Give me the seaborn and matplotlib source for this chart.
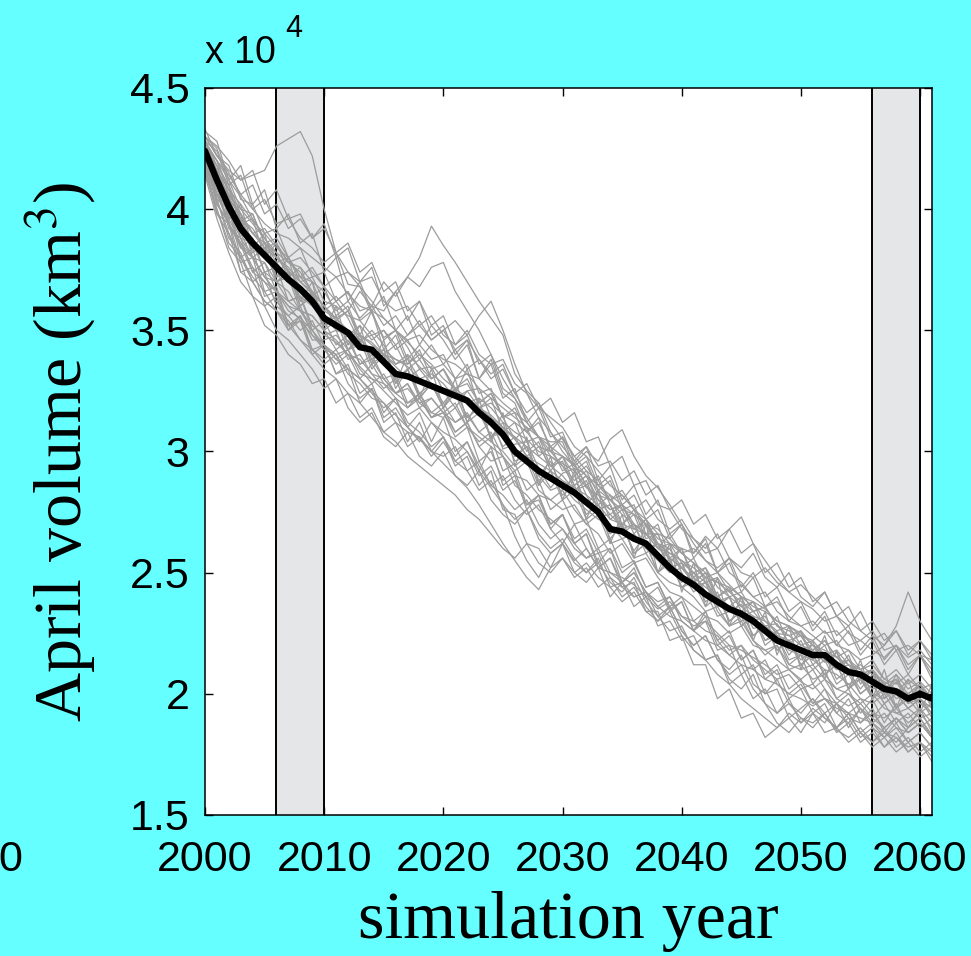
import numpy as np
import pandas as pd
import matplotlib
matplotlib.use("Agg")
import matplotlib.pyplot as plt
import seaborn as sns

# simulation years
years = list(range(2000, 2062))

# ensemble mean April volume (x 10^4 km^3)
vol_mean = [4.24, 4.12, 4.01, 3.92, 3.86, 3.81, 3.76, 3.71, 3.67, 3.62,
            3.55, 3.52, 3.49, 3.43, 3.42, 3.37, 3.32, 3.31, 3.29, 3.27,
            3.25, 3.23, 3.21, 3.16, 3.12, 3.07, 3.00, 2.96, 2.92, 2.89,
            2.86, 2.83, 2.79, 2.75, 2.68, 2.67, 2.64, 2.62, 2.57, 2.52,
            2.48, 2.45, 2.41, 2.38, 2.35, 2.33, 2.30, 2.26, 2.22, 2.20,
            2.18, 2.16, 2.16, 2.12, 2.09, 2.08, 2.05, 2.02, 2.01, 1.98,
            2.00, 1.98]

# individual ensemble members (x 10^4 km^3)
member_01 = [4.30, 4.22, 4.16, 4.12, 4.14, 4.16, 4.26, 4.29, 4.32, 4.22,
             4.00, 3.82, 3.69, 3.68, 3.57, 3.47, 3.50, 3.43, 3.34, 3.35,
             3.25, 3.18, 3.25, 3.26, 3.14, 3.01, 3.03, 3.04, 2.93, 2.85,
             2.91, 2.93, 2.82, 2.73, 2.74, 2.69, 2.59, 2.66, 2.66, 2.55,
             2.46, 2.50, 2.42, 2.32, 2.34, 2.37, 2.27, 2.28, 2.29, 2.21,
             2.14, 2.18, 2.13, 2.17, 2.09, 2.02, 2.08, 2.00, 2.05, 1.97,
             2.02, 1.95]
member_02 = [4.26, 4.20, 4.08, 4.02, 3.95, 3.90, 3.84, 3.80, 3.72, 3.70,
             3.66, 3.58, 3.62, 3.55, 3.60, 3.58, 3.66, 3.72, 3.80, 3.93,
             3.85, 3.78, 3.70, 3.62, 3.55, 3.48, 3.32, 3.25, 3.20, 3.12,
             3.05, 2.98, 2.92, 2.88, 2.80, 2.82, 2.76, 2.70, 2.62, 2.58,
             2.55, 2.50, 2.46, 2.40, 2.43, 2.36, 2.32, 2.30, 2.25, 2.24,
             2.20, 2.18, 2.22, 2.15, 2.12, 2.10, 2.06, 2.04, 2.08, 2.02,
             2.05, 2.00]
member_03 = [4.20, 4.02, 3.95, 3.78, 3.80, 3.64, 3.66, 3.52, 3.54, 3.40,
             3.44, 3.32, 3.34, 3.20, 3.26, 3.12, 3.16, 3.04, 3.12, 3.00,
             3.06, 2.94, 2.98, 2.86, 2.92, 2.76, 2.74, 2.62, 2.60, 2.52,
             2.62, 2.50, 2.46, 2.52, 2.40, 2.46, 2.36, 2.40, 2.28, 2.30,
             2.22, 2.24, 2.14, 2.16, 2.04, 2.08, 1.98, 2.02, 1.92, 1.96,
             1.90, 1.88, 1.92, 1.85, 1.82, 1.86, 1.80, 1.84, 1.82, 1.78,
             1.80, 1.76]
member_04 = [4.28, 4.18, 4.10, 3.98, 3.90, 3.92, 3.85, 3.78, 3.74, 3.66,
             3.60, 3.55, 3.58, 3.48, 3.45, 3.40, 3.36, 3.38, 3.30, 3.32,
             3.28, 3.22, 3.25, 3.18, 3.15, 3.10, 3.05, 2.98, 2.95, 2.92,
             2.88, 2.85, 2.82, 2.78, 2.72, 2.70, 2.68, 2.66, 2.60, 2.58,
             2.55, 2.52, 2.48, 2.46, 2.42, 2.45, 2.40, 2.36, 2.38, 2.32,
             2.28, 2.30, 2.25, 2.26, 2.20, 2.22, 2.18, 2.15, 2.20, 2.12,
             2.16, 2.10]
member_05 = [4.22, 4.10, 3.98, 3.88, 3.80, 3.72, 3.70, 3.62, 3.58, 3.52,
             3.48, 3.45, 3.40, 3.35, 3.30, 3.25, 3.20, 3.15, 3.18, 3.12,
             3.08, 3.05, 3.00, 2.92, 2.85, 2.78, 2.65, 2.55, 2.48, 2.58,
             2.62, 2.55, 2.60, 2.52, 2.50, 2.48, 2.45, 2.40, 2.35, 2.38,
             2.32, 2.28, 2.30, 2.25, 2.20, 2.18, 2.15, 2.12, 2.08, 2.10,
             2.05, 2.02, 2.06, 1.98, 1.95, 1.98, 1.92, 1.90, 1.94, 1.88,
             1.92, 1.86]
member_06 = [4.30, 4.25, 4.12, 4.05, 3.96, 3.88, 3.80, 3.76, 3.70, 3.65,
             3.60, 3.52, 3.50, 3.46, 3.42, 3.40, 3.35, 3.30, 3.34, 3.28,
             3.26, 3.25, 3.20, 3.22, 3.18, 3.12, 3.08, 3.05, 3.00, 2.98,
             2.95, 2.92, 2.85, 2.82, 2.80, 2.76, 2.74, 2.70, 2.68, 2.62,
             2.60, 2.58, 2.65, 2.60, 2.68, 2.73, 2.62, 2.55, 2.48, 2.42,
             2.38, 2.35, 2.30, 2.32, 2.25, 2.22, 2.26, 2.18, 2.20, 2.15,
             2.18, 2.12]
member_07 = [4.25, 4.15, 4.05, 3.96, 3.90, 3.84, 3.80, 3.75, 3.68, 3.64,
             3.58, 3.55, 3.50, 3.48, 3.44, 3.40, 3.38, 3.35, 3.30, 3.28,
             3.26, 3.24, 3.22, 3.18, 3.20, 3.15, 3.12, 3.08, 3.02, 3.00,
             2.98, 2.95, 3.00, 2.96, 3.05, 3.09, 2.98, 2.90, 2.85, 2.78,
             2.70, 2.62, 2.55, 2.50, 2.45, 2.40, 2.38, 2.35, 2.30, 2.28,
             2.25, 2.20, 2.18, 2.15, 2.10, 2.12, 2.08, 2.05, 2.02, 2.00,
             2.04, 1.98]
member_08 = [4.18, 4.10, 3.92, 3.88, 3.74, 3.78, 3.66, 3.62, 3.64, 3.52,
             3.48, 3.50, 3.38, 3.40, 3.32, 3.26, 3.30, 3.18, 3.22, 3.14,
             3.18, 3.08, 3.12, 3.02, 3.06, 2.92, 2.95, 2.84, 2.88, 2.76,
             2.80, 2.70, 2.72, 2.60, 2.64, 2.52, 2.55, 2.44, 2.46, 2.35,
             2.38, 2.26, 2.30, 2.18, 2.20, 2.08, 2.12, 2.00, 2.02, 1.90,
             1.84, 1.92, 1.88, 1.96, 1.86, 1.94, 1.88, 1.84, 1.80, 1.86,
             1.90, 1.83]
member_09 = [4.27, 4.16, 4.08, 3.95, 3.98, 3.86, 3.82, 3.72, 3.76, 3.70,
             3.58, 3.62, 3.55, 3.45, 3.50, 3.44, 3.36, 3.40, 3.35, 3.30,
             3.34, 3.26, 3.28, 3.20, 3.24, 3.14, 3.05, 3.10, 2.98, 3.02,
             2.92, 2.95, 2.86, 2.80, 2.76, 2.78, 2.68, 2.72, 2.62, 2.60,
             2.52, 2.56, 2.46, 2.48, 2.40, 2.42, 2.34, 2.36, 2.28, 2.26,
             2.24, 2.18, 2.22, 2.15, 2.18, 2.10, 2.14, 2.06, 2.10, 2.04,
             2.08, 2.02]
member_10 = [4.22, 4.02, 3.94, 3.85, 3.74, 3.70, 3.66, 3.58, 3.55, 3.50,
             3.44, 3.40, 3.42, 3.32, 3.30, 3.28, 3.22, 3.18, 3.24, 3.16,
             3.14, 3.18, 3.10, 3.06, 3.02, 2.98, 2.90, 2.88, 2.82, 2.80,
             2.76, 2.78, 2.70, 2.66, 2.58, 2.62, 2.54, 2.56, 2.48, 2.42,
             2.40, 2.36, 2.32, 2.30, 2.25, 2.28, 2.20, 2.18, 2.14, 2.10,
             2.12, 2.06, 2.08, 2.02, 2.00, 1.96, 2.00, 1.94, 1.92, 1.90,
             1.94, 1.88]
member_11 = [4.33, 4.22, 4.18, 4.04, 4.02, 3.90, 3.92, 3.80, 3.84, 3.72,
             3.74, 3.62, 3.66, 3.54, 3.58, 3.46, 3.50, 3.38, 3.44, 3.38,
             3.40, 3.30, 3.36, 3.24, 3.26, 3.14, 3.16, 3.04, 3.06, 2.94,
             2.96, 2.84, 2.88, 2.76, 2.78, 2.66, 2.70, 2.58, 2.62, 2.52,
             2.54, 2.44, 2.48, 2.36, 2.40, 2.28, 2.32, 2.22, 2.26, 2.16,
             2.22, 2.12, 2.16, 2.06, 2.10, 2.00, 2.04, 1.96, 2.00, 1.94,
             1.98, 1.90]
member_12 = [4.15, 4.00, 3.86, 3.80, 3.70, 3.62, 3.58, 3.52, 3.46, 3.42,
             3.38, 3.42, 3.34, 3.30, 3.36, 3.28, 3.24, 3.26, 3.20, 3.22,
             3.16, 3.12, 3.15, 3.08, 3.04, 3.00, 2.94, 2.98, 2.90, 2.84,
             2.86, 2.80, 2.76, 2.72, 2.70, 2.64, 2.66, 2.60, 2.55, 2.50,
             2.52, 2.46, 2.42, 2.40, 2.36, 2.32, 2.34, 2.28, 2.24, 2.22,
             2.18, 2.20, 2.14, 2.10, 2.12, 2.06, 2.02, 2.04, 1.98, 2.00,
             1.96, 1.95]
member_13 = [4.28, 4.20, 4.12, 4.00, 3.94, 3.88, 3.82, 3.78, 3.80, 3.74,
             3.68, 3.72, 3.65, 3.60, 3.58, 3.55, 3.50, 3.46, 3.48, 3.42,
             3.38, 3.36, 3.32, 3.30, 3.25, 3.20, 3.16, 3.12, 3.06, 3.02,
             2.98, 2.94, 2.90, 2.86, 2.82, 2.78, 2.74, 2.70, 2.64, 2.62,
             2.58, 2.54, 2.50, 2.46, 2.44, 2.40, 2.36, 2.34, 2.30, 2.28,
             2.24, 2.22, 2.26, 2.20, 2.18, 2.14, 2.16, 2.20, 2.28, 2.42,
             2.30, 2.22]
member_14 = [4.24, 4.10, 4.06, 3.88, 3.86, 3.74, 3.76, 3.62, 3.64, 3.50,
             3.54, 3.44, 3.48, 3.36, 3.40, 3.30, 3.32, 3.20, 3.24, 3.14,
             3.16, 3.06, 3.10, 2.96, 3.00, 2.88, 2.92, 2.78, 2.82, 2.70,
             2.74, 2.62, 2.66, 2.52, 2.56, 2.44, 2.46, 2.34, 2.34, 2.22,
             2.24, 2.12, 2.12, 1.98, 2.02, 1.90, 1.92, 1.82, 1.86, 1.90,
             1.94, 1.98, 1.92, 1.96, 1.90, 1.88, 1.92, 1.86, 1.90, 1.84,
             1.88, 1.82]
member_15 = [4.26, 4.16, 4.00, 3.98, 3.84, 3.84, 3.72, 3.74, 3.62, 3.64,
             3.52, 3.54, 3.42, 3.48, 3.36, 3.40, 3.26, 3.34, 3.22, 3.28,
             3.18, 3.24, 3.12, 3.16, 3.06, 3.10, 2.98, 3.02, 2.90, 2.96,
             2.84, 2.90, 2.78, 2.84, 2.72, 2.76, 2.66, 2.72, 2.60, 2.66,
             2.58, 2.60, 2.55, 2.52, 2.56, 2.50, 2.48, 2.52, 2.46, 2.42,
             2.45, 2.40, 2.35, 2.38, 2.30, 2.26, 2.22, 2.25, 2.18, 2.20,
             2.16, 2.14]
member_16 = [4.23, 4.12, 3.96, 3.98, 3.80, 3.84, 3.70, 3.74, 3.60, 3.64,
             3.50, 3.54, 3.42, 3.46, 3.34, 3.40, 3.28, 3.34, 3.22, 3.28,
             3.18, 3.26, 3.14, 3.18, 3.06, 3.08, 2.96, 2.98, 2.86, 2.92,
             2.80, 2.84, 2.72, 2.76, 2.64, 2.70, 2.58, 2.62, 2.50, 2.54,
             2.44, 2.46, 2.36, 2.40, 2.30, 2.34, 2.24, 2.28, 2.18, 2.22,
             2.12, 2.16, 2.08, 2.12, 2.02, 2.06, 1.98, 2.02, 1.94, 1.98,
             1.92, 1.96]
member_17 = [4.20, 4.06, 3.96, 3.86, 3.80, 3.72, 3.66, 3.60, 3.54, 3.48,
             3.44, 3.38, 3.34, 3.30, 3.25, 3.20, 3.15, 3.10, 3.05, 3.00,
             2.95, 2.90, 2.85, 2.78, 2.70, 2.62, 2.55, 2.48, 2.43, 2.52,
             2.56, 2.50, 2.54, 2.48, 2.44, 2.46, 2.40, 2.42, 2.36, 2.32,
             2.30, 2.26, 2.22, 2.20, 2.16, 2.12, 2.10, 2.06, 2.04, 2.00,
             1.98, 1.95, 1.98, 1.94, 1.92, 1.90, 1.88, 1.92, 1.86, 1.84,
             1.88, 1.82]
member_18 = [4.30, 4.22, 4.15, 4.06, 4.00, 3.94, 3.90, 3.88, 3.84, 3.80,
             3.76, 3.72, 3.74, 3.68, 3.62, 3.55, 3.50, 3.45, 3.40, 3.36,
             3.30, 3.26, 3.22, 3.18, 3.14, 3.10, 3.06, 3.02, 2.98, 2.94,
             2.90, 2.84, 2.86, 2.76, 2.78, 2.68, 2.70, 2.60, 2.62, 2.52,
             2.54, 2.44, 2.46, 2.36, 2.40, 2.30, 2.32, 2.22, 2.24, 2.14,
             2.16, 2.10, 2.14, 2.04, 2.08, 2.00, 2.04, 1.96, 2.00, 1.94,
             1.98, 1.92]
member_19 = [4.18, 3.98, 3.94, 3.74, 3.76, 3.60, 3.64, 3.50, 3.56, 3.46,
             3.46, 3.48, 3.42, 3.44, 3.40, 3.42, 3.38, 3.36, 3.40, 3.34,
             3.36, 3.30, 3.32, 3.26, 3.22, 3.18, 3.14, 3.10, 3.06, 3.04,
             3.04, 2.92, 2.96, 2.84, 2.88, 2.76, 2.78, 2.66, 2.70, 2.56,
             2.60, 2.46, 2.50, 2.38, 2.40, 2.28, 2.32, 2.20, 2.24, 2.12,
             2.16, 2.04, 2.10, 1.98, 2.02, 1.92, 1.98, 1.88, 1.96, 1.86,
             1.94, 1.84]
member_20 = [4.25, 4.18, 4.00, 3.96, 3.82, 3.86, 3.70, 3.74, 3.60, 3.66,
             3.52, 3.56, 3.44, 3.48, 3.38, 3.42, 3.30, 3.34, 3.24, 3.28,
             3.20, 3.26, 3.14, 3.18, 3.06, 3.12, 2.98, 3.02, 2.88, 2.92,
             2.82, 2.86, 2.74, 2.78, 2.66, 2.70, 2.58, 2.62, 2.50, 2.56,
             2.44, 2.48, 2.38, 2.42, 2.30, 2.34, 2.24, 2.28, 2.18, 2.22,
             2.12, 2.16, 2.08, 2.12, 2.02, 2.08, 1.98, 2.04, 1.94, 2.00,
             1.96, 1.92]
member_21 = [4.29, 4.14, 4.10, 3.94, 3.96, 3.80, 3.86, 3.78, 3.76, 3.64,
             3.68, 3.56, 3.60, 3.48, 3.58, 3.42, 3.48, 3.36, 3.42, 3.30,
             3.34, 3.24, 3.34, 3.18, 3.22, 3.08, 3.12, 3.00, 3.04, 2.92,
             2.98, 2.86, 2.90, 2.78, 2.82, 2.70, 2.76, 2.64, 2.66, 2.54,
             2.60, 2.48, 2.52, 2.40, 2.44, 2.34, 2.38, 2.26, 2.32, 2.20,
             2.26, 2.14, 2.24, 2.10, 2.16, 2.04, 2.10, 1.98, 2.08, 1.96,
             2.04, 1.94]
member_22 = [4.21, 4.04, 4.00, 3.80, 3.84, 3.66, 3.68, 3.52, 3.56, 3.42,
             3.44, 3.32, 3.36, 3.24, 3.28, 3.16, 3.22, 3.10, 3.16, 3.04,
             3.14, 3.00, 3.04, 2.92, 3.02, 2.86, 2.90, 2.76, 2.82, 2.68,
             2.74, 2.62, 2.66, 2.54, 2.60, 2.46, 2.52, 2.40, 2.44, 2.34,
             2.38, 2.26, 2.32, 2.20, 2.24, 2.14, 2.18, 2.08, 2.12, 2.02,
             2.06, 1.96, 2.02, 1.92, 1.98, 1.88, 1.94, 1.84, 1.90, 1.86,
             1.90, 1.82]
member_23 = [4.32, 4.28, 4.12, 4.18, 4.02, 4.08, 3.92, 3.98, 3.86, 3.90,
             3.74, 3.80, 3.62, 3.70, 3.58, 3.64, 3.50, 3.56, 3.44, 3.52,
             3.46, 3.38, 3.44, 3.30, 3.36, 3.22, 3.26, 3.12, 3.18, 3.06,
             3.08, 2.96, 3.02, 2.88, 2.94, 2.80, 2.86, 2.74, 2.80, 2.66,
             2.70, 2.58, 2.64, 2.50, 2.56, 2.44, 2.50, 2.40, 2.44, 2.34,
             2.38, 2.28, 2.34, 2.24, 2.28, 2.18, 2.24, 2.14, 2.20, 2.10,
             2.16, 2.08]
member_24 = [4.16, 3.98, 3.90, 3.74, 3.70, 3.62, 3.58, 3.50, 3.54, 3.42,
             3.36, 3.40, 3.28, 3.22, 3.26, 3.14, 3.18, 3.10, 3.04, 3.12,
             3.06, 2.98, 3.04, 2.94, 2.86, 2.90, 2.80, 2.74, 2.78, 2.68,
             2.62, 2.70, 2.60, 2.52, 2.56, 2.46, 2.50, 2.42, 2.36, 2.40,
             2.30, 2.26, 2.34, 2.22, 2.16, 2.20, 2.10, 2.14, 2.04, 2.00,
             2.04, 1.96, 1.98, 1.92, 1.88, 1.94, 1.86, 1.82, 1.88, 1.80,
             1.84, 1.78]
member_25 = [4.26, 4.20, 4.06, 4.00, 3.98, 3.86, 3.88, 3.80, 3.72, 3.76,
             3.68, 3.62, 3.66, 3.58, 3.60, 3.52, 3.56, 3.48, 3.54, 3.46,
             3.50, 3.42, 3.46, 3.38, 3.32, 3.36, 3.24, 3.16, 3.20, 3.08,
             3.00, 2.94, 2.86, 2.90, 2.78, 2.70, 2.74, 2.62, 2.56, 2.60,
             2.50, 2.42, 2.46, 2.34, 2.28, 2.32, 2.22, 2.16, 2.20, 2.10,
             2.06, 2.10, 2.02, 1.96, 2.00, 1.94, 1.90, 1.96, 1.88, 1.92,
             1.86, 1.90]
member_26 = [4.18, 4.04, 3.88, 3.82, 3.70, 3.74, 3.60, 3.56, 3.50, 3.54,
             3.44, 3.38, 3.42, 3.34, 3.28, 3.32, 3.24, 3.28, 3.20, 3.16,
             3.20, 3.12, 3.16, 3.08, 3.12, 3.02, 3.06, 2.98, 3.02, 2.94,
             2.98, 2.90, 2.94, 2.86, 2.80, 2.84, 2.76, 2.80, 2.72, 2.68,
             2.72, 2.64, 2.60, 2.66, 2.56, 2.52, 2.58, 2.48, 2.44, 2.50,
             2.40, 2.36, 2.42, 2.32, 2.28, 2.34, 2.24, 2.20, 2.26, 2.16,
             2.22, 2.14]
member_27 = [4.22, 4.14, 3.96, 4.02, 3.84, 3.90, 3.72, 3.80, 3.62, 3.70,
             3.50, 3.60, 3.44, 3.52, 3.36, 3.46, 3.28, 3.40, 3.22, 3.34,
             3.18, 3.30, 3.12, 3.22, 3.04, 3.16, 2.94, 3.06, 2.86, 2.98,
             2.80, 2.92, 2.72, 2.84, 2.62, 2.74, 2.56, 2.70, 2.50, 2.62,
             2.42, 2.54, 2.36, 2.48, 2.28, 2.40, 2.22, 2.34, 2.16, 2.28,
             2.10, 2.22, 2.06, 2.18, 2.02, 2.14, 1.98, 2.10, 1.94, 2.06,
             1.92, 2.04]
member_28 = [4.20, 4.08, 3.94, 3.86, 3.76, 3.70, 3.62, 3.56, 3.60, 3.48,
             3.42, 3.36, 3.40, 3.30, 3.24, 3.18, 3.22, 3.12, 3.08, 3.02,
             3.06, 2.96, 2.92, 2.84, 2.88, 2.78, 2.72, 2.76, 2.66, 2.60,
             2.64, 2.56, 2.50, 2.54, 2.46, 2.42, 2.48, 2.38, 2.32, 2.36,
             2.26, 2.20, 2.24, 2.14, 2.08, 2.12, 2.02, 1.96, 1.88, 1.84,
             1.90, 1.86, 1.92, 1.84, 1.88, 1.80, 1.84, 1.78, 1.82, 1.76,
             1.80, 1.74]
member_29 = [4.28, 4.24, 4.10, 4.14, 4.00, 4.04, 3.94, 3.96, 3.88, 3.84,
             3.78, 3.82, 3.74, 3.70, 3.72, 3.62, 3.58, 3.60, 3.52, 3.56,
             3.48, 3.44, 3.50, 3.40, 3.36, 3.38, 3.28, 3.24, 3.18, 3.14,
             3.10, 3.02, 2.98, 2.92, 2.86, 2.82, 2.76, 2.72, 2.66, 2.64,
             2.58, 2.54, 2.48, 2.50, 2.42, 2.38, 2.34, 2.36, 2.28, 2.24,
             2.26, 2.20, 2.16, 2.18, 2.12, 2.08, 2.10, 2.04, 2.00, 2.06,
             2.02, 1.98]
member_30 = [4.24, 4.06, 4.00, 3.84, 3.88, 3.74, 3.70, 3.72, 3.58, 3.56,
             3.50, 3.42, 3.46, 3.36, 3.38, 3.30, 3.24, 3.28, 3.18, 3.22,
             3.16, 3.20, 3.10, 3.04, 3.08, 2.98, 2.92, 2.96, 2.84, 2.80,
             2.84, 2.76, 2.70, 2.74, 2.62, 2.64, 2.56, 2.58, 2.50, 2.46,
             2.44, 2.40, 2.34, 2.36, 2.28, 2.30, 2.22, 2.18, 2.20, 2.12,
             2.10, 2.12, 2.06, 2.02, 2.04, 1.98, 1.96, 2.00, 1.92, 1.94,
             1.90, 1.92]
member_31 = [4.30, 4.26, 4.20, 4.12, 4.16, 4.02, 4.08, 3.96, 3.98, 3.88,
             3.94, 3.80, 3.84, 3.70, 3.76, 3.60, 3.66, 3.54, 3.62, 3.48,
             3.52, 3.40, 3.46, 3.30, 3.38, 3.24, 3.20, 3.08, 3.14, 3.00,
             3.06, 2.94, 2.98, 2.86, 2.90, 2.78, 2.82, 2.72, 2.76, 2.64,
             2.70, 2.56, 2.62, 2.50, 2.54, 2.42, 2.48, 2.36, 2.40, 2.30,
             2.36, 2.26, 2.32, 2.20, 2.26, 2.16, 2.22, 2.12, 2.18, 2.08,
             2.16, 2.06]
member_32 = [4.18, 4.00, 3.84, 3.78, 3.64, 3.60, 3.50, 3.46, 3.40, 3.34,
             3.26, 3.30, 3.18, 3.12, 3.16, 3.06, 3.02, 3.08, 2.98, 2.94,
             3.00, 2.90, 2.86, 2.92, 2.80, 2.74, 2.70, 2.76, 2.64, 2.58,
             2.62, 2.54, 2.50, 2.56, 2.44, 2.38, 2.42, 2.34, 2.30, 2.36,
             2.26, 2.20, 2.24, 2.14, 2.10, 2.16, 2.04, 2.00, 2.06, 1.96,
             1.92, 1.98, 1.90, 1.86, 1.92, 1.84, 1.80, 1.86, 1.78, 1.82,
             1.76, 1.80]
member_33 = [4.26, 4.16, 4.08, 3.96, 3.92, 3.84, 3.86, 3.74, 3.70, 3.66,
             3.60, 3.54, 3.58, 3.46, 3.48, 3.40, 3.44, 3.34, 3.38, 3.30,
             3.34, 3.26, 3.30, 3.20, 3.24, 3.14, 3.18, 3.08, 3.12, 3.02,
             3.06, 2.98, 3.02, 2.94, 2.96, 2.88, 2.92, 2.82, 2.86, 2.76,
             2.80, 2.70, 2.74, 2.64, 2.68, 2.58, 2.62, 2.50, 2.54, 2.44,
             2.48, 2.38, 2.42, 2.32, 2.36, 2.26, 2.30, 2.22, 2.26, 2.18,
             2.22, 2.16]
member_34 = [4.14, 3.96, 3.82, 3.70, 3.64, 3.52, 3.48, 3.40, 3.36, 3.28,
             3.30, 3.20, 3.24, 3.14, 3.18, 3.08, 3.12, 3.02, 3.06, 2.98,
             3.04, 2.96, 3.00, 2.90, 2.94, 2.84, 2.88, 2.78, 2.80, 2.70,
             2.74, 2.64, 2.68, 2.58, 2.60, 2.50, 2.54, 2.44, 2.46, 2.36,
             2.40, 2.30, 2.34, 2.22, 2.26, 2.14, 2.18, 2.06, 2.10, 1.98,
             2.02, 1.92, 1.96, 1.86, 1.90, 1.82, 1.86, 1.78, 1.84, 1.76,
             1.80, 1.72]
member_35 = [4.28, 4.20, 4.14, 4.06, 4.10, 3.98, 4.02, 3.92, 3.96, 3.88,
             3.92, 3.82, 3.86, 3.74, 3.78, 3.66, 3.70, 3.58, 3.62, 3.52,
             3.56, 3.44, 3.48, 3.36, 3.40, 3.26, 3.22, 3.12, 3.06, 2.98,
             2.94, 2.86, 2.90, 2.80, 2.74, 2.78, 2.68, 2.70, 2.60, 2.56,
             2.52, 2.46, 2.50, 2.40, 2.36, 2.40, 2.30, 2.32, 2.24, 2.22,
             2.24, 2.16, 2.20, 2.10, 2.14, 2.06, 2.10, 2.02, 2.06, 1.98,
             2.04, 1.96]
member_36 = [4.22, 4.10, 3.98, 3.90, 3.80, 3.78, 3.70, 3.66, 3.58, 3.56,
             3.50, 3.46, 3.40, 3.38, 3.32, 3.30, 3.24, 3.20, 3.22, 3.14,
             3.16, 3.08, 3.12, 3.02, 2.96, 2.98, 2.86, 2.82, 2.76, 2.72,
             2.68, 2.62, 2.56, 2.58, 2.48, 2.44, 2.40, 2.42, 2.32, 2.26,
             2.28, 2.18, 2.14, 2.16, 2.06, 2.02, 2.08, 1.96, 1.92, 1.98,
             1.88, 1.92, 1.84, 1.86, 1.80, 1.84, 1.78, 1.82, 1.76, 1.80,
             1.74, 1.78]
member_37 = [4.24, 4.18, 4.04, 3.98, 3.90, 3.86, 3.78, 3.80, 3.70, 3.72,
             3.62, 3.60, 3.56, 3.54, 3.48, 3.50, 3.42, 3.46, 3.38, 3.44,
             3.36, 3.42, 3.34, 3.38, 3.30, 3.34, 3.24, 3.28, 3.18, 3.22,
             3.12, 3.16, 3.04, 3.06, 2.94, 2.98, 2.86, 2.88, 2.78, 2.76,
             2.68, 2.64, 2.58, 2.60, 2.50, 2.46, 2.40, 2.42, 2.34, 2.30,
             2.28, 2.24, 2.20, 2.22, 2.14, 2.10, 2.12, 2.06, 2.04, 2.08,
             2.02, 2.04]
member_38 = [4.20, 4.06, 3.94, 3.84, 3.80, 3.72, 3.66, 3.60, 3.58, 3.50,
             3.42, 3.40, 3.32, 3.28, 3.22, 3.20, 3.12, 3.08, 3.06, 3.00,
             2.98, 3.02, 2.92, 2.96, 2.86, 2.82, 2.76, 2.80, 2.70, 2.64,
             2.68, 2.60, 2.56, 2.60, 2.50, 2.46, 2.50, 2.42, 2.38, 2.40,
             2.32, 2.30, 2.26, 2.24, 2.18, 2.20, 2.14, 2.10, 2.06, 2.08,
             2.02, 2.04, 1.98, 1.96, 1.92, 1.96, 1.90, 1.86, 1.90, 1.84,
             1.88, 1.82]
member_39 = [4.24, 4.14, 4.06, 3.98, 3.90, 3.86, 3.80, 3.74, 3.72, 3.66,
             3.60, 3.64, 3.58, 3.66, 3.60, 3.70, 3.64, 3.72, 3.68, 3.76,
             3.78, 3.66, 3.58, 3.50, 3.40, 3.30, 3.22, 3.14, 3.06, 3.00,
             2.94, 2.88, 2.92, 2.82, 2.76, 2.78, 2.70, 2.66, 2.60, 2.62,
             2.54, 2.50, 2.52, 2.44, 2.40, 2.36, 2.38, 2.30, 2.26, 2.28,
             2.20, 2.22, 2.16, 2.12, 2.14, 2.08, 2.10, 2.04, 2.06, 2.00,
             2.04, 1.98]
member_40 = [4.26, 4.12, 4.04, 3.94, 3.88, 3.80, 3.78, 3.70, 3.64, 3.60,
             3.56, 3.50, 3.48, 3.52, 3.46, 3.50, 3.44, 3.48, 3.52, 3.46,
             3.50, 3.54, 3.48, 3.56, 3.62, 3.50, 3.36, 3.24, 3.14, 3.08,
             3.02, 2.96, 2.90, 2.84, 2.80, 2.74, 2.70, 2.66, 2.62, 2.56,
             2.52, 2.48, 2.44, 2.40, 2.36, 2.34, 2.30, 2.26, 2.24, 2.18,
             2.16, 2.14, 2.10, 2.08, 2.04, 2.06, 2.00, 1.98, 2.02, 1.96,
             1.98, 1.94]
member_41 = [4.20, 4.04, 3.90, 3.80, 3.72, 3.66, 3.58, 3.54, 3.46, 3.40,
             3.34, 3.30, 3.24, 3.20, 3.14, 3.08, 3.04, 2.98, 2.94, 2.90,
             2.86, 2.82, 2.76, 2.72, 2.66, 2.60, 2.56, 2.62, 2.54, 2.50,
             2.56, 2.48, 2.52, 2.44, 2.48, 2.40, 2.44, 2.36, 2.30, 2.34,
             2.24, 2.18, 2.14, 2.08, 2.04, 1.98, 1.94, 1.90, 1.86, 1.92,
             1.88, 1.94, 1.90, 1.86, 1.92, 1.84, 1.88, 1.82, 1.86, 1.80,
             1.84, 1.78]

members = [member_01, member_02, member_03, member_04, member_05, member_06,
           member_07, member_08, member_09, member_10, member_11, member_12,
           member_13, member_14, member_15, member_16, member_17, member_18,
           member_19, member_20, member_21, member_22, member_23, member_24,
           member_25, member_26, member_27, member_28, member_29, member_30,
           member_31, member_32, member_33, member_34, member_35, member_36,
           member_37, member_38, member_39, member_40, member_41]

# shaded analysis periods
periods = [(2006, 2010), (2056, 2060)]

xtick_vals = [2000, 2010, 2020, 2030, 2040, 2050, 2060]
ytick_vals = [1.5, 2, 2.5, 3, 3.5, 4, 4.5]

rows = []
for k, m in enumerate(members):
    for yr, v in zip(years, m):
        rows.append((k, yr, v))
df = pd.DataFrame(rows, columns=["member", "year", "volume"])

sns.set_style("ticks")
plt.rcParams["font.family"] = ["Liberation Sans", "DejaVu Sans"]
plt.rcParams["mathtext.fontset"] = "stix"
plt.rcParams["text.color"] = "black"
plt.rcParams["axes.labelcolor"] = "black"
plt.rcParams["xtick.color"] = "black"
plt.rcParams["ytick.color"] = "black"

fig = plt.figure(figsize=(9.71, 9.56), dpi=100, facecolor="#66ffff")
ax = fig.add_axes([0.2111, 0.1475, 0.7487, 0.7605])
ax.set_facecolor("white")

for a, b in periods:
    ax.axvspan(a, b, color="#e5e6e8", zorder=0, lw=0)
    ax.axvline(a, color="black", lw=1.4, zorder=1)
    ax.axvline(b, color="black", lw=1.4, zorder=1)

sns.lineplot(data=df, x="year", y="volume", units="member", estimator=None,
             color="#9c9c9c", linewidth=0.9, legend=False, ax=ax, zorder=2)
sns.lineplot(x=years, y=vol_mean, color="black", linewidth=4.6, ax=ax, zorder=3)
ax.lines[-1].set_solid_joinstyle("round")

ax.set_xlim(2000, 2061)
ax.set_ylim(1.5, 4.5)
ax.set_xticks(xtick_vals)
ax.set_yticks(ytick_vals)
ax.set_yticklabels(["%g" % v for v in ytick_vals])
ax.tick_params(direction="in", length=6, width=1, top=True, right=True,
               labelsize=31, colors="black")
ax.tick_params(axis="x", pad=18)
ax.tick_params(axis="y", pad=11)
for s in ax.spines.values():
    s.set_linewidth(1.1)
    s.set_color("black")
    s.set_zorder(5)

ax.set_xlabel("simulation year", family="Liberation Serif", fontsize=49,
              color="black")
ax.set_ylabel(r"April volume (km$^{3}$)", family="Liberation Serif",
              fontsize=49, color="black")
ax.xaxis.set_label_coords(0.5, -0.104)
ax.yaxis.set_label_coords(-0.147, 0.5)

fig.text(205 / 971, 1 - 63 / 956, "x 10", fontsize=27, va="baseline", ha="left")
fig.text(285 / 971, 1 - 37 / 956, "4", fontsize=22, va="baseline", ha="left")
# tick label left over from the neighbouring panel
fig.text(22 / 971, 1 - 840 / 956, "0", fontsize=31, va="top", ha="right")

fig.savefig("out.png", dpi=100, facecolor=fig.get_facecolor())
